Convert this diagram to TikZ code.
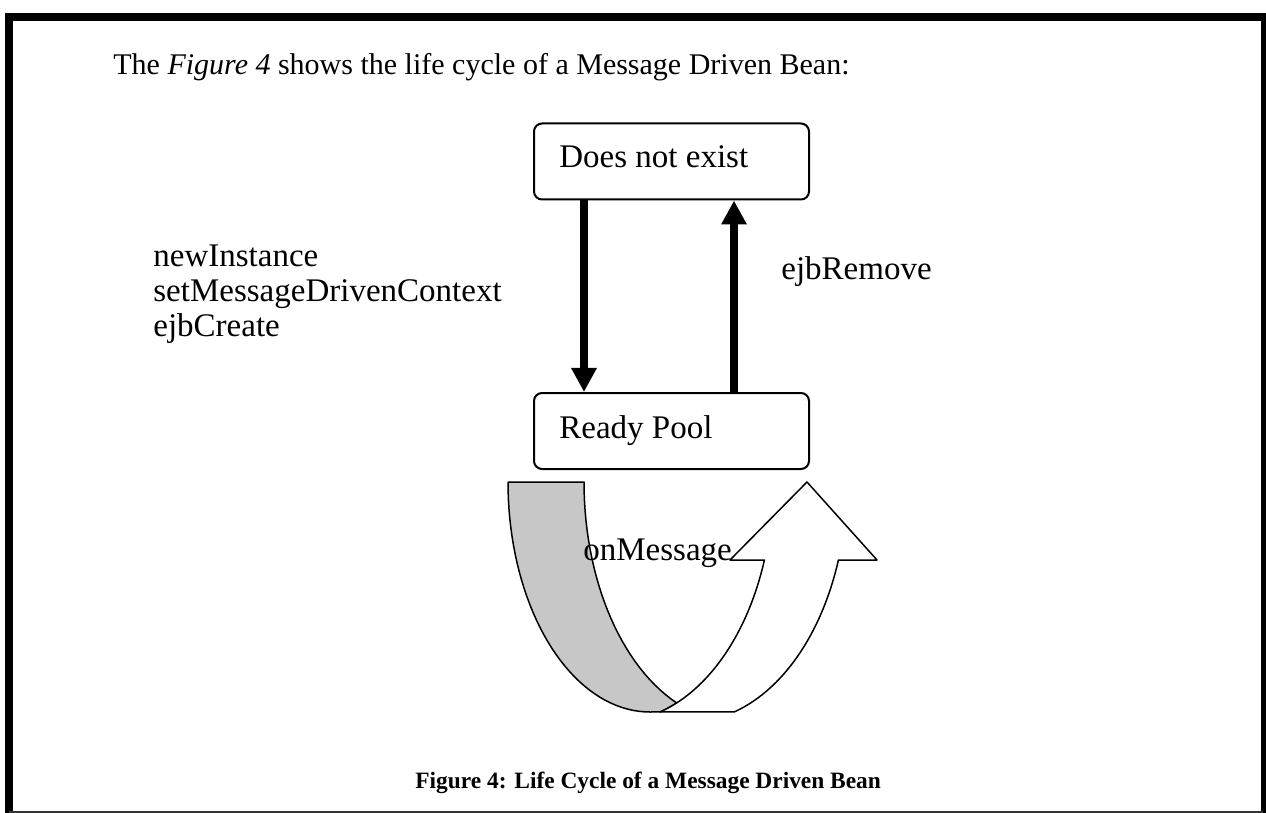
\documentclass[tikz,border=0pt]{standalone}
\usepackage{fontspec}
\setmainfont{Liberation Serif}
\usetikzlibrary{arrows.meta}
\begin{document}
\begin{tikzpicture}[x=0.5pt,y=-0.5pt,
  box/.style={draw=black, line width=1pt, rounded corners=4pt, minimum width=137.5pt, minimum height=38pt, inner sep=0pt},
  lbl/.style={inner sep=0pt, anchor=base west, font=\fontsize{16.5}{18}\selectfont},
  bigarrow/.style={line width=4pt, -{Triangle[width=12pt,length=12pt]}},
  shapeline/.style={draw=black, line width=0.75pt, line join=round},
  title/.style={inner sep=0pt, anchor=base west, font=\fontsize{15}{18}\selectfont},
  caption/.style={inner sep=0pt, anchor=base west, font=\fontsize{11.7}{14}\selectfont\bfseries},
]
\useasboundingbox (0,0) rectangle (1266,813);
\fill[white] (0,0) rectangle (1266,813);
% frame
\draw[line width=4pt] (9,813) -- (9,17) -- (1266,17);
\draw[line width=2.5pt] (1263.5,17) -- (1263.5,813);
\draw[line width=0.6pt, black!80] (9,812) -- (1263,812);
% boxes
\node[box] (dne) at (671.5,161.5) {};
\node[box] (rp) at (671.5,431) {};
\coordinate (xl) at (584,0);
\coordinate (xr) at (734,0);
\draw[bigarrow] (dne.south -| xl) -- (rp.north -| xl);
\draw[bigarrow] (rp.north -| xr) -- (dne.south -| xr);
% curved arrow: shaded back band
\filldraw[shapeline, fill=black!22] (508,482) -- (584,482)
  -- plot[domain=180:113, samples=30, variable=\t] ({736+152*cos(\t)},{482+240*sin(\t)})
  -- plot[domain=67:73.4, samples=5, variable=\t] ({615+158*cos(\t)},{482+240*sin(\t)})
  -- plot[domain=90:180, samples=40, variable=\t] ({650+142*cos(\t)},{482+230*sin(\t)})
  -- cycle;
% front white arrow
\filldraw[shapeline, fill=white] (807,482) -- (877,560) -- (838.4,560)
  -- plot[domain=18.97:73.4, samples=30, variable=\t] ({689+158*cos(\t)},{482+240*sin(\t)})
  -- plot[domain=73.4:18.97, samples=30, variable=\t] ({615+158*cos(\t)},{482+240*sin(\t)})
  -- (730,560) -- cycle;
% texts
\node[title] (ttl) at (113,75) {The \textit{Figure 4} shows the life cycle of a Message Driven Bean:};
\node[lbl] (dnet) at (559,168) {Does not exist};
\node[lbl] (rpt) at (559,438) {Ready Pool};
\node[lbl] (n1) at (153,267) {newInstance};
\node[lbl] (n2) at (153,301.5) {setMessageDrivenContext};
\node[lbl] (n3) at (153,336) {ejbCreate};
\node[lbl] (rem) at (781,279) {ejbRemove};
\node[lbl] (onm) at (583,560) {onMessage};
\node[caption] (cap) at (415,788) {Figure 4: Life Cycle of a Message Driven Bean};
\end{tikzpicture}
\end{document}
